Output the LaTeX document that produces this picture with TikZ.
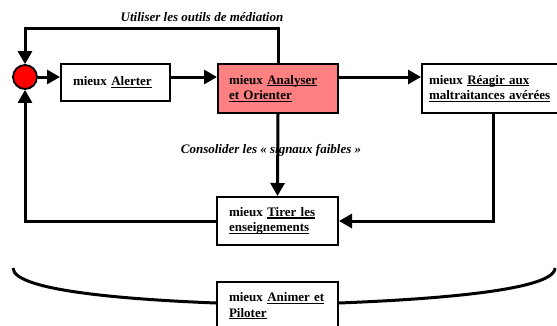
\documentclass[tikz,border=0pt]{standalone}
\usepackage{fontspec}
\setmainfont{Liberation Serif}
\usetikzlibrary{arrows.meta}
\newcommand{\souligne}[1]{\leavevmode\setbox0\hbox{#1}\rlap{\box0}\setbox0\hbox{#1}\rule[-2.3pt]{\wd0}{1.2pt}}

\begin{document}
\begin{tikzpicture}[x=1pt,y=-1pt]
\useasboundingbox (0,0) rectangle (557,325);
\begin{scope}
	\tikzstyle{every node}=[font=\fontsize{13}{15.5}\selectfont\bfseries, align=left]
	\tikzstyle{bloc}=[draw, line width=2pt, fill=white, inner ysep=2pt]
	\tikzstyle{fleche}=[line width=3pt, -{Triangle[length=13pt,width=14pt]}]
	\tikzstyle{trait}=[line width=3pt]
	\tikzstyle{etiquette}=[font=\fontsize{13}{15.5}\selectfont\bfseries\itshape]

	\node[draw, line width=1.8pt, circle, fill=red, minimum size=24pt, inner sep=0pt] (depart) at (25,77) {};
	\node[bloc, text width=85pt, inner xsep=12pt, minimum height=37pt] (alerter) at (115.5,82.5) {mieux \souligne{Alerter}};
	\node[bloc, fill={rgb,255:red,255;green,128;blue,128}, text width=98pt, inner xsep=11pt, minimum height=49pt] (analyser) at (278,88.5) {mieux \souligne{Analyser}\\\souligne{et Orienter}};
	\node[bloc, text width=126pt, inner xsep=7pt, minimum height=49pt] (reagir) at (492,88.5) {mieux \souligne{Réagir aux}\\\souligne{maltraitances avérées}};
	\node[bloc, text width=97pt, inner xsep=12pt, minimum height=48pt] (tirer) at (277.5,221) {mieux \souligne{Tirer les}\\\souligne{enseignements}};
	\node[bloc, text width=97pt, inner xsep=12pt, minimum height=48pt] (animer) at (277.5,306) {mieux \souligne{Animer et}\\\souligne{Piloter}};

	\node[etiquette] (mediation) at (202,17) {Utiliser les outils de médiation};
	\node[etiquette] (consolider) at (271,150) {Consolider les « signaux faibles »};

	\coordinate (coinD) at (493,222);
	\coordinate (bordG) at (13,268);
	\coordinate (bordD) at (555,268);

	\draw[fleche] (depart) -- (depart -| alerter.west);
	\draw[fleche] (alerter.east |- depart) -- (analyser.west |- depart);
	\draw[fleche] (analyser.east |- depart) -- (reagir.west |- depart);
	\draw[fleche] (analyser.north) -- ++(0,-35) -| (depart.north);
	\draw[fleche] (analyser.south) -- (tirer.north);
	\draw[fleche] (reagir.south -| coinD) |- (tirer.east);
	\draw[fleche] (tirer.west) -| (depart.south);

	\draw[trait] (bordG) .. controls (13,292) and (140,300) .. ([yshift=3pt]animer.west);
	\draw[trait] ([yshift=3pt]animer.east) .. controls (415,300) and (555,292) .. (bordD);
\end{scope}
\end{tikzpicture}
\end{document}
